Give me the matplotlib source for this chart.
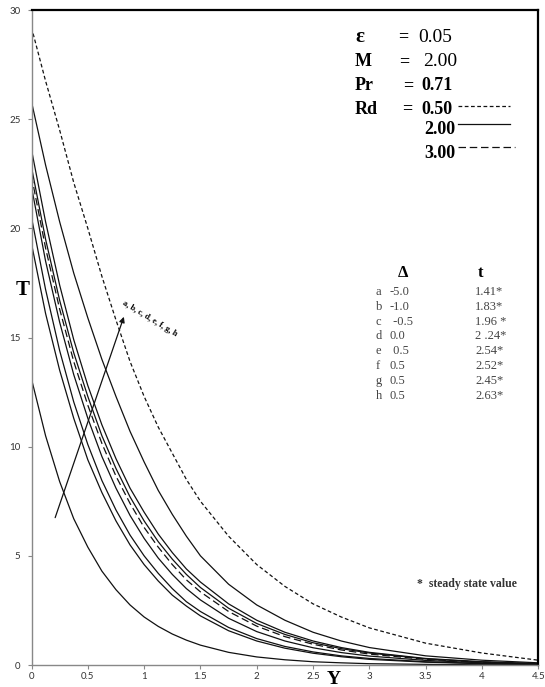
"""
Perfils de temperatura T(Y) per a diferents valors de Delta i Rd
"""
import matplotlib.pyplot as plt

# --- Dades llegides de la figura ---
Y = [0, 0.125, 0.25, 0.375, 0.5, 0.625, 0.75, 0.875, 1, 1.125, 1.25, 1.375, 1.5,
     1.75, 2, 2.25, 2.5, 2.75, 3, 3.5, 4, 4.5]

# Rd = 0.50 (traç curt)
T_rd05 = [29.2, 26.75, 24.5, 22.1, 20.0, 17.8, 15.8, 13.9, 12.3, 10.9, 9.7, 8.5, 7.5,
          5.9, 4.6, 3.6, 2.8, 2.2, 1.7, 1.0, 0.55, 0.22]
# Rd = 3.00 (traç llarg)
T_rd30 = [22.4, 19.1, 16.3, 13.9, 11.9, 10.15, 8.65, 7.4, 6.3, 5.4, 4.6, 3.9, 3.35,
          2.45, 1.78, 1.3, 0.95, 0.69, 0.5, 0.26, 0.13, 0.05]
# Rd = 2.00 (continues)
T_rd20 = [
    [25.8, 22.9, 20.3, 17.95, 15.9, 14.0, 12.3, 10.7, 9.3, 8.0, 6.9, 5.9, 5.0,
     3.7, 2.75, 2.05, 1.5, 1.1, 0.8, 0.42, 0.22, 0.1],
    [23.6, 20.3, 17.4, 14.9, 12.8, 11.0, 9.45, 8.1, 7.0, 6.0, 5.15, 4.4, 3.8,
     2.8, 2.05, 1.5, 1.1, 0.8, 0.58, 0.3, 0.15, 0.06],
    [22.8, 19.5, 16.7, 14.3, 12.3, 10.5, 9.0, 7.7, 6.6, 5.65, 4.85, 4.15, 3.55,
     2.6, 1.9, 1.4, 1.02, 0.75, 0.55, 0.28, 0.14, 0.06],
    [21.9, 18.5, 15.7, 13.3, 11.3, 9.55, 8.1, 6.85, 5.8, 4.9, 4.15, 3.5, 2.98,
     2.14, 1.53, 1.1, 0.79, 0.57, 0.41, 0.21, 0.1, 0.04],
    [20.5, 17.2, 14.4, 12.05, 10.1, 8.45, 7.1, 5.95, 5.0, 4.2, 3.5, 2.9, 2.45,
     1.72, 1.21, 0.85, 0.6, 0.42, 0.3, 0.15, 0.07, 0.03],
    [19.3, 16.1, 13.5, 11.3, 9.4, 7.9, 6.6, 5.5, 4.6, 3.85, 3.2, 2.7, 2.25,
     1.57, 1.1, 0.77, 0.54, 0.38, 0.26, 0.13, 0.06, 0.03],
    [13.1, 10.5, 8.4, 6.7, 5.4, 4.3, 3.45, 2.75, 2.2, 1.77, 1.42, 1.14, 0.91,
     0.58, 0.37, 0.24, 0.15, 0.1, 0.06, 0.03, 0.01, 0.0],
]

# Taula
lletres = ['a', 'b', 'c', 'd', 'e', 'f', 'g', 'h']
deltes = ['-5.0', '-1.0', ' -0.5', '0.0', ' 0.5', '0.5', '0.5', '0.5']
temps = ['1.41*', '1.83*', '1.96 *', '2 .24*', '2.54*', '2.52*', '2.45*', '2.63*']

xticks = [0, 0.5, 1, 1.5, 2, 2.5, 3, 3.5, 4, 4.5]
xticklabels = ['0', '0.5', '1', '1.5', '2', '2.5', '3', '3.5', '4', '4.5']
yticks = [0, 5, 10, 15, 20, 25, 30]

serif = 'Liberation Serif'
fig = plt.figure(figsize=(5.45, 6.87), dpi=100)
ax = fig.add_axes([0.0578, 0.032, 0.930, 0.9534])

col = '#111111'
ax.plot(Y, T_rd05, color=col, lw=0.9, dashes=(3, 2))
for serie in T_rd20:
    ax.plot(Y, serie, color=col, lw=0.9)
ax.plot(Y, T_rd30, color=col, lw=0.9, dashes=(6, 3))

ax.set_xlim(0, 4.5)
ax.set_ylim(0, 30)
ax.set_xticks(xticks)
ax.set_xticklabels(xticklabels)
ax.set_yticks(yticks)
ax.tick_params(direction='out', length=3, width=0.8, color='#888888',
               labelsize=7, labelcolor='#333333', pad=2)
ax.tick_params(axis='y', pad=5)
for lab in ax.get_xticklabels() + ax.get_yticklabels():
    lab.set_family('Lato')

for s in ['left', 'bottom']:
    ax.spines[s].set_color('#888888')
    ax.spines[s].set_linewidth(1.0)
for s in ['top', 'right']:
    ax.spines[s].set_color('black')
    ax.spines[s].set_linewidth(1.6)

# Etiquetes dels eixos
fig.text(23 / 545, 1 - 290 / 687, 'T', family=serif, fontweight='bold', fontsize=15,
         ha='center', va='center')
fig.text(334 / 545, 1 - 679 / 687, 'Y', family=serif, fontweight='bold', fontsize=14,
         ha='center', va='center')

# Fletxa
ax.annotate('', xy=(0.82, 15.95), xytext=(0.21, 6.75),
            arrowprops=dict(arrowstyle='-|>', color=col, lw=0.9,
                            mutation_scale=8, shrinkA=0, shrinkB=0))
ax.text(1.05, 15.85, 'a, b, c, d, e, f, g, h', family=serif, fontweight='bold', fontsize=6,
        rotation=-31, ha='center', va='center', rotation_mode='anchor')

# Paràmetres
def ftxt(x, y, s, bold=True, size=13, ha='left'):
    fig.text(x / 545, 1 - y / 687, s, family=serif, fontsize=size,
             fontweight='bold' if bold else 'normal', ha=ha, va='center')

ftxt(355, 37, 'ε', size=15)
ftxt(398, 37, '=')
ftxt(418, 37, '0.05', bold=False, size=14)
ftxt(355, 62, 'M')
ftxt(399, 62, '=')
ftxt(423, 62, '2.00', bold=False, size=14)
ftxt(355, 86, 'Pr')
ftxt(403, 86, '=')
ftxt(421, 86, '0.71')
ftxt(355, 109, 'Rd')
ftxt(402, 109, '=')
ftxt(421, 109, '0.50')
ftxt(424, 130, '2.00')
ftxt(424, 153, '3.00')

# Línies de la llegenda
def fline(x0, x1, y, **kw):
    fig.add_artist(plt.Line2D([x0 / 545, x1 / 545], [1 - y / 687, 1 - y / 687],
                              color=col, lw=0.9, **kw))

fline(458, 510, 106, dashes=(3, 2))
fline(458, 510, 124)
fline(458, 515, 147, dashes=(6, 3))

# Taula Delta / t
ftxt(403, 273, 'Δ', size=12, ha='center')
ftxt(480, 273, 't', size=12, ha='center')
for i in range(len(lletres)):
    yy = 292 + i * 14.8
    fig.text(376 / 545, 1 - yy / 687, lletres[i], family=serif, fontsize=9,
             color='#444444', va='center')
    fig.text(390 / 545, 1 - yy / 687, deltes[i], family=serif, fontsize=9,
             color='#444444', va='center')
    fig.text(475 / 545, 1 - yy / 687, temps[i], family=serif, fontsize=9,
             color='#444444', va='center')

fig.text(417 / 545, 1 - 584 / 687, '*  steady state value', family=serif, fontsize=8.5,
         fontweight='bold', color='#333333', va='center')

plt.savefig('out.png', dpi=100)
